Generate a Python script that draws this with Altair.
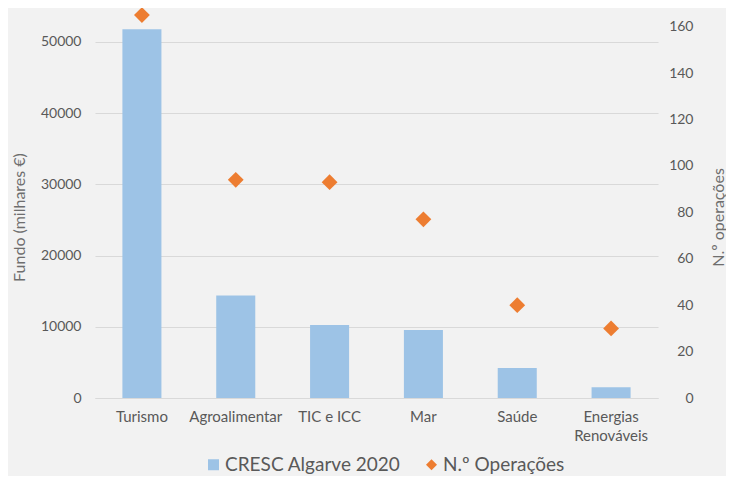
import altair as alt
import pandas as pd

categories = ["Turismo", "Agroalimentar", "TIC e ICC", "Mar", "Saúde", "Energias Renováveis"]
fundo = [51800, 14400, 10250, 9550, 4200, 1500]
operacoes = [165, 94, 93, 77, 40, 30]
left_ticks = [0, 10000, 20000, 30000, 40000, 50000]
right_ticks = [0, 20, 40, 60, 80, 100, 120, 140, 160]
series = ["CRESC Algarve 2020", "N.º Operações"]
series_colors = ["#9DC3E6", "#ED7D31"]
series_shapes = ["square", "diamond"]

df = pd.DataFrame({"cat": categories, "fundo": fundo, "ops": operacoes})

FONT = "Lato"
GREY = "#595959"
TITLE_GREY = "#6E6E6E"

xenc = alt.X(
    "cat:N",
    sort=categories,
    scale=alt.Scale(paddingInner=0.584, paddingOuter=0.292),
    axis=alt.Axis(
        title=None, labelAngle=0, labelPadding=11, ticks=False,
        domainColor="#D9D9D9", labelColor=GREY, labelFontSize=15, labelFont=FONT,
        labelLineHeight=19,
        labelExpr="datum.value == 'Energias Renováveis' ? ['Energias', 'Renováveis'] : datum.value",
    ),
)

color_scale = alt.Scale(domain=series, range=series_colors)
legend = alt.Legend(
    title=None, orient="none", legendX=109, legendY=445, direction="horizontal",
    labelFontSize=19, labelColor=GREY, labelFont=FONT, symbolSize=121,
    columnPadding=21, symbolStrokeWidth=0, labelLimit=400, labelOffset=2,
)

bars = alt.Chart(df).transform_calculate(serie="'CRESC Algarve 2020'").mark_bar().encode(
    x=xenc,
    y=alt.Y(
        "fundo:Q",
        scale=alt.Scale(domain=[0, 54494], nice=False, zero=True),
        axis=alt.Axis(
            title="Fundo (milhares €)", values=left_ticks, format="d", ticks=False,
            domain=False, grid=True, gridColor="#D9D9D9", labelPadding=14,
            labelColor=GREY, labelFontSize=14, labelFont=FONT, titleColor=TITLE_GREY,
            titleFontSize=16, titleFont=FONT, titleFontWeight="normal",
            titleX=-76, titleY=207, titleBaseline="middle", titleAlign="center",
        ),
    ),
    color=alt.Color("serie:N", scale=color_scale, legend=legend),
)

points = alt.Chart(df).transform_calculate(serie="'N.º Operações'").mark_point(
    filled=True, size=250, opacity=1
).encode(
    x=xenc,
    y=alt.Y(
        "ops:Q",
        scale=alt.Scale(domain=[0, 167.2], nice=False, zero=True),
        axis=alt.Axis(
            title="N.º operações", orient="right", values=right_ticks, ticks=False,
            domain=False, grid=False, labelAlign="right", labelPadding=35,
            labelColor=GREY, labelFontSize=14, labelFont=FONT, titleColor=TITLE_GREY,
            titleFontSize=16, titleFont=FONT, titleFontWeight="normal",
            titleAngle=270, titleX=60, titleY=207, titleBaseline="middle",
            titleAlign="center",
        ),
    ),
    color=alt.Color("serie:N", scale=color_scale, legend=legend),
    shape=alt.Shape("serie:N", scale=alt.Scale(domain=series, range=series_shapes), legend=legend),
)

chart = alt.layer(bars, points).resolve_scale(y="independent").properties(
    width=563,
    height=388,
    autosize=alt.AutoSizeParams(type="none"),
    padding={"left": 87, "top": 2, "right": 68, "bottom": 78},
    background="#F2F2F2",
).configure_view(stroke=None)

chart.save("out.html", embed_options={"renderer": "svg", "actions": False})
